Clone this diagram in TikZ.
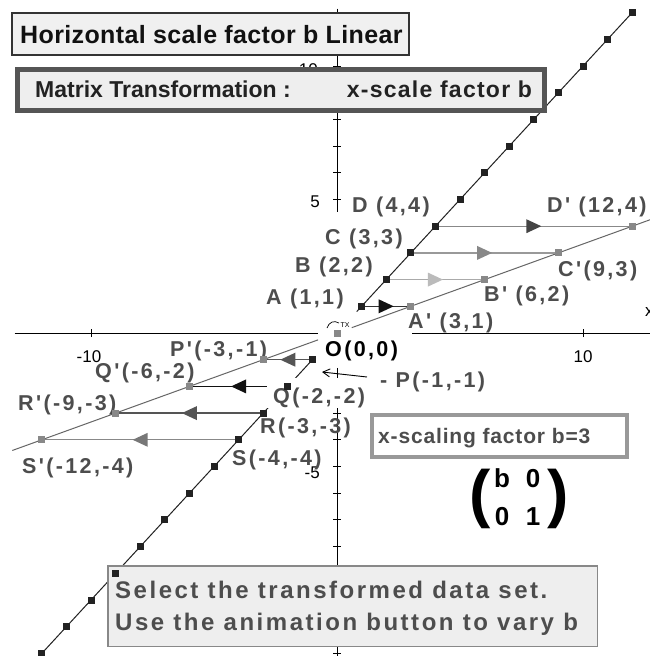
\documentclass[tikz,border=0pt]{standalone}
\usepackage{fontspec}
\setmainfont{Liberation Sans}
\newfontfamily\labfont{Liberation Sans}[LetterSpace=11]
\newfontfamily\titlefont{Liberation Sans}[LetterSpace=1.5]
\newfontfamily\mleftfont{Liberation Sans}[LetterSpace=0]
\newfontfamily\mrightfont{Liberation Sans}[LetterSpace=5.5]
\newfontfamily\selfont{Liberation Sans}[LetterSpace=10.5]
\newfontfamily\xsfont{Liberation Sans}[LetterSpace=4]
\newfontfamily\plainfont{Liberation Sans}
\usetikzlibrary{arrows.meta,decorations.markings}
\definecolor{c111}{HTML}{111111}
\definecolor{c222}{HTML}{222222}
\definecolor{c333}{HTML}{333333}
\definecolor{c444}{HTML}{444444}
\definecolor{c4d}{HTML}{4D4D4D}
\definecolor{c555}{HTML}{555555}
\definecolor{c666}{HTML}{666666}
\definecolor{c777}{HTML}{777777}
\definecolor{c888}{HTML}{888888}
\definecolor{c999}{HTML}{999999}
\definecolor{cAAA}{HTML}{AAAAAA}
\definecolor{cBBB}{HTML}{BBBBBB}
\definecolor{cEEE}{HTML}{EEEEEE}
\definecolor{cF0}{HTML}{F0F0F0}
\tikzset{
  axisline/.style={black, line width=0.9pt},
  objline/.style={c222, line width=1pt},
  imgline/.style={c666, line width=1pt},
  arr/.style 2 args={draw=#1, line width=1.3pt, postaction={decorate},
    decoration={markings, mark=at position 0.5 with {\fill[#2] (-7.5pt,-7pt) -- (7.5pt,0pt) -- (-7.5pt,7pt) -- cycle;}}},
  ptb/.style={rectangle, fill=c222, minimum size=7pt, inner sep=0pt},
  ptg/.style={rectangle, fill=c888, minimum size=7pt, inner sep=0pt},
  lab/.style={anchor=base west, inner sep=0pt, text=c4d, font=\labfont\fontsize{21.5}{24}\selectfont\bfseries},
  ticklab/.style={inner sep=0pt, font=\plainfont\fontsize{17}{20}\selectfont},
  box1/.style={draw=c333, fill=cF0, line width=1.3pt, minimum width=397pt, minimum height=42pt, inner sep=0pt},
  mbox/.style={draw=c555, fill=cEEE, line width=5pt, minimum width=527pt, minimum height=41pt, inner sep=0pt},
  xbox/.style={draw=c999, fill=white, line width=4pt, minimum width=255pt, minimum height=42pt, inner sep=0pt},
  sbox/.style={draw=c888, fill=cEEE, line width=1.5pt, minimum width=489.5pt, minimum height=80.5pt, inner sep=0pt},
  boxtext/.style={anchor=base west, inner sep=0pt},
  paren/.style={inner sep=0pt, anchor=base, font=\plainfont\bfseries\fontsize{64}{64}\selectfont},
  ment/.style={inner sep=0pt, anchor=base, font=\plainfont\bfseries\fontsize{26}{26}\selectfont},
  ptrarrow/.style={black, line width=0.9pt, -{Straight Barb[length=7pt,width=8pt]}}
}
\begin{document}
\begin{tikzpicture}[x=1pt,y=-1pt]
\useasboundingbox (0,0) rectangle (650,656);
\fill[white] (0,0) rectangle (650,656);
\begin{scope}[shift={(337,333)}, x=24.6pt, y={(0pt,26.7pt)}]
  \foreach \k in {-12,...,12} {\coordinate (g\k) at (\k,\k);}
  \coordinate (O) at (0,0);
  \coordinate (Ap) at (3,1);
  \coordinate (Bp) at (6,2);
  \coordinate (Cp) at (9,3);
  \coordinate (Dp) at (12,4);
  \coordinate (Pp) at (-3,-1);
  \coordinate (Qp) at (-6,-2);
  \coordinate (Rp) at (-9,-3);
  \coordinate (Sp) at (-12,-4);
  % axes
  \draw[axisline] (-13.1,0) -- (-0.77,0);
  \draw[axisline] (3.05,0) -- (12.8,0);
  \draw[axisline] (0,12.15) -- (0,4.55);
  \draw[axisline] (0,-1.31) -- (0,-12.15);
  \foreach \k in {5,...,12} {\draw[axisline] ([xshift=-4pt]0,\k) -- ([xshift=4pt]0,\k);}
  \foreach \k in {-12,...,-2} {\draw[axisline] ([xshift=-4pt]0,\k) -- ([xshift=4pt]0,\k);}
  \foreach \k in {-10,10} {\draw[axisline] ([yshift=-4pt]\k,0) -- ([yshift=4pt]\k,0);}
  % lines
  \draw[imgline] (-13.2,-4.4) -- (-0.77,-0.257);
  \draw[imgline] (0.6,0.2) -- (13.5,4.5);
  \draw[objline] (g-12) -- (g-1);
  \draw[objline] (0.8,0.8) -- (g12);
  % transformation arrows
  \draw[arr={c888}{c444}] (g4) -- (Dp);
  \draw[arr={c999}{c888}] (g3) -- (Cp);
  \draw[arr={cAAA}{cBBB}] (g2) -- (Bp);
  \draw[arr={c333}{c111}] (g1) -- (Ap);
  \draw[arr={c555}{c555}] (g-1) -- (Pp);
  \draw[arr={c111}{c111}] (g-2) -- (Qp);
  \draw[arr={c555}{c555}] (g-3) -- (Rp);
  \draw[arr={c888}{c777}] (g-4) -- (Sp);
\end{scope}
% mask behind the Q label
\fill[white] (267,378) rectangle (375,408);
% tick labels
\node[ticklab, anchor=base] (tm10) at (89,362) {-10};
\node[ticklab, anchor=base] (tp10) at (583,362) {10};
\node[ticklab, anchor=base east] (ty5) at (320,207) {5};
\node[ticklab, anchor=base east] (tym5) at (320,478) {-5};
\node[ticklab, anchor=base east] (ty10) at (318,75) {10};
\node[ticklab, anchor=base west] (xlab) at (645,316) {x};
% origin widget
\draw[line width=0.7pt] (327,328) .. controls (329,322) and (334,320) .. (339,323);
\node[inner sep=0pt, font=\plainfont\fontsize{7}{7}\selectfont] (tx) at (345,325) {TX};
% point labels
\node[lab] (lD) at (352,212) {D (4,4)};
\node[lab] (lDp) at (547,212) {D' (12,4)};
\node[lab] (lC) at (325,244) {C (3,3)};
\node[lab] (lCp) at (558,276) {C'(9,3)};
\node[lab] (lB) at (295,272) {B (2,2)};
\node[lab] (lBp) at (484,301) {B' (6,2)};
\node[lab] (lA) at (266,304) {A (1,1)};
\node[lab] (lAp) at (408,328) {A' (3,1)};
\node[lab, text=black] (lO) at (325,356) {O(0,0)};
\node[lab] (lPp) at (170,356) {P'(-3,-1)};
\node[lab] (lQp) at (95,378) {Q'(-6,-2)};
\node[lab] (lRp) at (18,410) {R'(-9,-3)};
\node[lab] (lSp) at (22,473) {S'(-12,-4)};
\node[lab] (lQ) at (273,403) {Q(-2,-2)};
\node[lab] (lR) at (260,433) {R(-3,-3)};
\node[lab] (lS) at (232,465) {S(-4,-4)};
\node[lab] (lP) at (380,387) {- P(-1,-1)};
\coordinate (pa1) at (367,377);
\coordinate (pa2) at (322,372);
\draw[ptrarrow] (pa1) -- (pa2);
% boxes
\node[box1] (titlebox) at (210.5,34) {};
\node[boxtext, text=c111, font=\titlefont\fontsize{25}{28}\selectfont\bfseries] (title) at (20,43) {Horizontal scale factor b Linear};
\node[mbox] (matbox) at (281,90) {};
\node[boxtext, text=c222, font=\mleftfont\fontsize{23}{28}\selectfont\bfseries] (mattext) at (35,97) {Matrix Transformation :\hspace{56pt}{\mrightfont\bfseries x-scale factor b}};
\node[xbox] (xsbox) at (499.5,436) {};
\node[boxtext, text=c4d, font=\xsfont\fontsize{21}{24}\selectfont\bfseries] (xstext) at (378,443) {x-scaling factor b=3};
\node[paren] (lpar) at (480,515) {(};
\node[paren] (rpar) at (558,515) {)};
\node[ment] (m11) at (502,487) {b};
\node[ment] (m12) at (533,487) {0};
\node[ment] (m21) at (502,525) {0};
\node[ment] (m22) at (533,525) {1};
\node[sbox] (selbox) at (352.5,606) {};
\node[boxtext, text=c4d, font=\selfont\fontsize{24}{28}\selectfont\bfseries] (sel1) at (115,598) {Select the transformed data set.};
\node[boxtext, text=c4d, font=\selfont\fontsize{24}{28}\selectfont\bfseries] (sel2) at (115,630) {Use the animation button to vary b};
% points
\foreach \k in {-12,...,-1,1,2,...,12} {\node[ptb] (sq\k) at (g\k) {};}
\node[ptg] (sqO) at (O) {};
\node[ptg] (sqAp) at (Ap) {};
\node[ptg] (sqBp) at (Bp) {};
\node[ptg] (sqCp) at (Cp) {};
\node[ptg] (sqDp) at (Dp) {};
\node[ptg] (sqPp) at (Pp) {};
\node[ptg] (sqQp) at (Qp) {};
\node[ptg] (sqRp) at (Rp) {};
\node[ptg] (sqSp) at (Sp) {};
\end{tikzpicture}
\end{document}
